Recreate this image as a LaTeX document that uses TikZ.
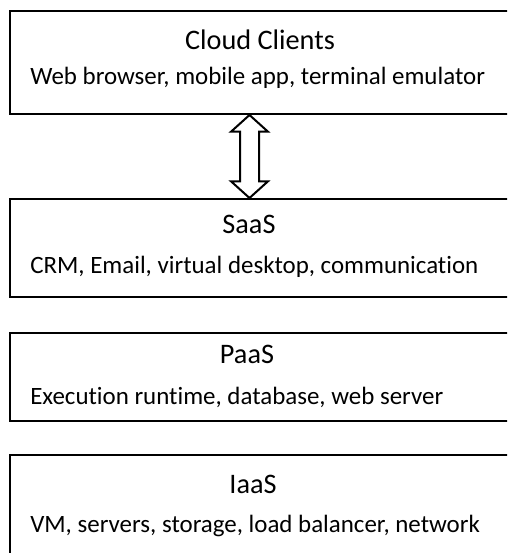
\documentclass[tikz,border=0pt]{standalone}
\usepackage{fontspec}
\setmainfont{Carlito}[Ligatures=NoCommon]
\usetikzlibrary{calc}
\tikzset{
  layer/.style={draw=black, line width=1.5pt, rectangle, anchor=north west, inner sep=0pt, minimum width=375pt},
  ttl/.style={anchor=base, inner sep=0pt, font=\fontsize{21.2pt}{25pt}\selectfont},
  sub/.style={anchor=base west, inner sep=0pt, font=\fontsize{18.7pt}{22.5pt}\selectfont},
  hollow/.style={draw=black, fill=white, line width=1.5pt, line join=miter}
}
\begin{document}
\begin{tikzpicture}[x=0.75pt, y=-0.75pt]
  \useasboundingbox (0,0) rectangle (507,553);
  \clip (0,0) rectangle (507,553);

  % stacked service layers
  \node[layer, minimum height=77.25pt] (cc)   at (9,10)  {};
  \node[layer, minimum height=73.5pt]  (saas) at (9,198) {};
  \node[layer, minimum height=66pt]    (paas) at (9,332) {};
  \node[layer, minimum height=82.5pt]  (iaas) at (9,454) {};

  % layer names
  \node[ttl] (cct)   at (260,49)  {Cloud Clients};
  \node[ttl] (saast) at (249,233) {SaaS};
  \node[ttl] (paast) at (247,363) {PaaS};
  \node[ttl] (iaast) at (253,493) {IaaS};

  % layer contents
  \node[sub] (ccs)   at (30,84)  {Web browser, mobile app, terminal emulator};
  \node[sub] (saass) at (30,273) {CRM, Email, virtual desktop, communication};
  \node[sub] (paass) at (30,404) {Execution runtime, database, web server};
  \node[sub] (iaass) at (30,532) {VM, servers, storage, load balancer, network};

  % hollow double arrow between clients and SaaS
  \coordinate (ax) at (249.5,0);
  \coordinate (atop) at (cc.south -| ax);
  \coordinate (abot) at (saas.north -| ax);
  \draw[hollow] (atop)
    -- ($(atop)+(18.5,16.7)$) -- ($(atop)+(9.5,16.7)$)
    -- ($(abot)+(9.5,-16.7)$) -- ($(abot)+(18.5,-16.7)$)
    -- (abot)
    -- ($(abot)+(-18.5,-16.7)$) -- ($(abot)+(-9.5,-16.7)$)
    -- ($(atop)+(-9.5,16.7)$) -- ($(atop)+(-18.5,16.7)$)
    -- cycle;
\end{tikzpicture}
\end{document}
